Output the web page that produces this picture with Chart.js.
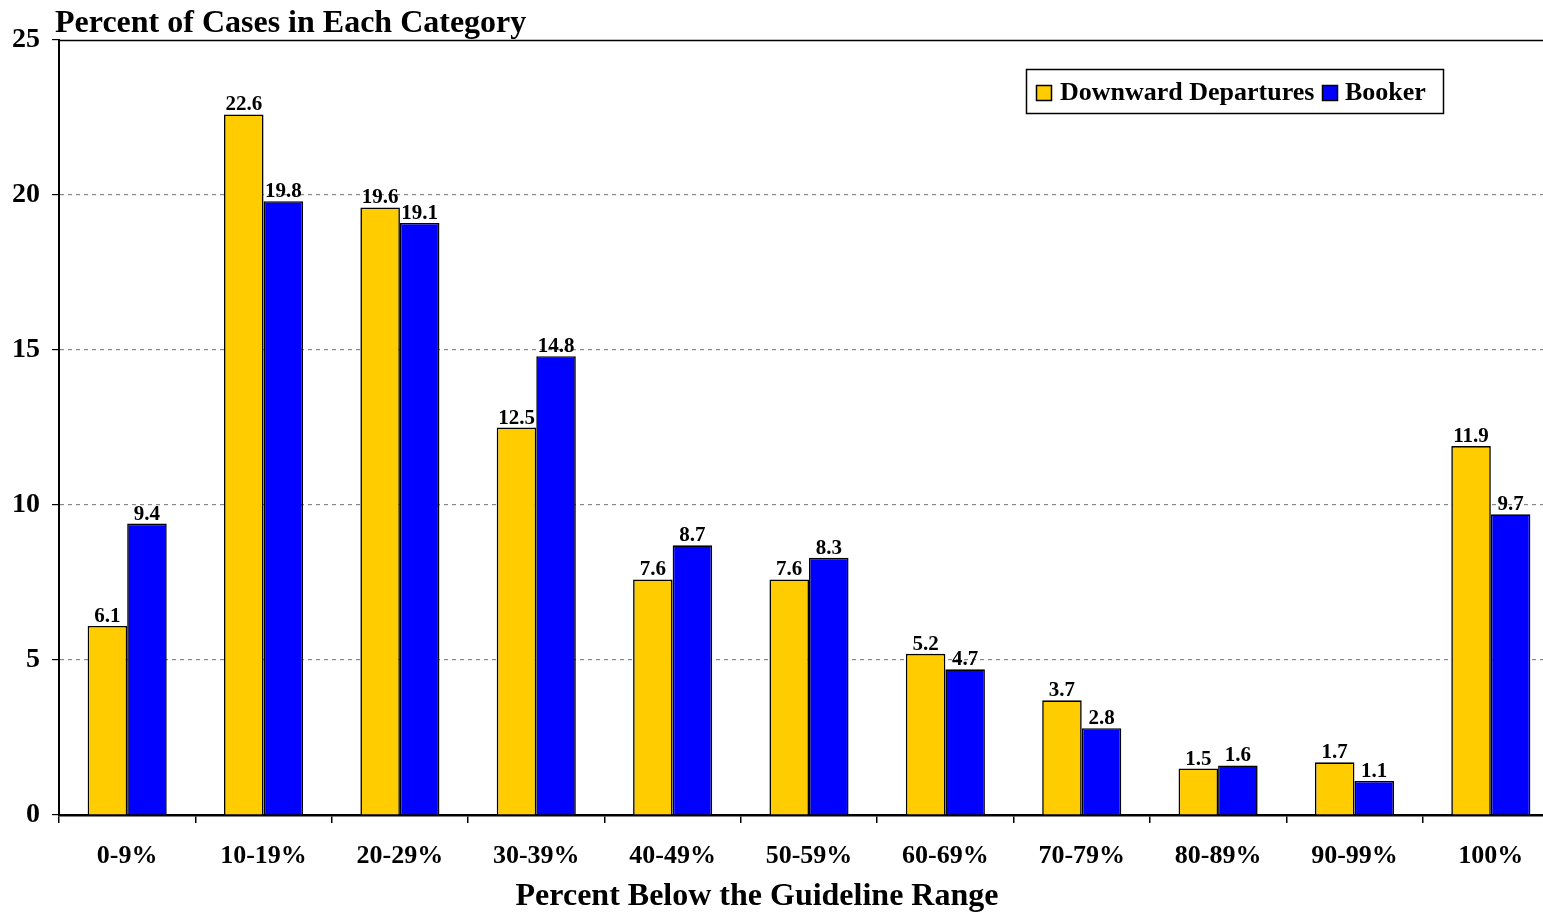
<!DOCTYPE html>
<html>
<head>
<meta charset="utf-8">
<script src="https://cdn.jsdelivr.net/npm/chart.js@4/dist/chart.umd.min.js"></script>
<style>
  html, body { margin: 0; padding: 0; background: #fff; overflow: hidden; width: 1543px; height: 912px; }
  #wrap { position: absolute; left: 0; top: 0; width: 1560px; height: 912px; }
</style>
</head>
<body>
<div id="wrap"><canvas id="c" width="1560" height="912"></canvas></div>
<script>
const categories = ['0-9%', '10-19%', '20-29%', '30-39%', '40-49%', '50-59%', '60-69%', '70-79%', '80-89%', '90-99%', '100%'];
const downwardDepartures = [6.1, 22.6, 19.6, 12.5, 7.6, 7.6, 5.2, 3.7, 1.5, 1.7, 11.9];
const booker = [9.4, 19.8, 19.1, 14.8, 8.7, 8.3, 4.7, 2.8, 1.6, 1.1, 9.7];
const seriesNames = ['Downward Departures', 'Booker'];
const yTicks = [0, 5, 10, 15, 20, 25];
const chartTitle = 'Percent of Cases in Each Category';
const xAxisTitle = 'Percent Below the Guideline Range';

const FONT = '"Liberation Serif", "Times New Roman", serif';

const extras = {
  id: 'extras',
  afterDatasetsDraw(chart) {
    const ctx = chart.ctx;
    const ca = chart.chartArea;
    ctx.save();
    // top border solid
    ctx.strokeStyle = '#000';
    ctx.lineWidth = 1.5;
    ctx.beginPath();
    ctx.moveTo(ca.left, ca.top + 0.5);
    ctx.lineTo(ca.right, ca.top + 0.5);
    ctx.stroke();

    // data labels
    ctx.fillStyle = '#000';
    ctx.font = 'bold 21px ' + FONT;
    ctx.textAlign = 'center';
    ctx.textBaseline = 'alphabetic';
    chart.data.datasets.forEach((ds, i) => {
      const meta = chart.getDatasetMeta(i);
      meta.data.forEach((bar, j) => {
        ctx.fillText(ds.data[j].toFixed(1), bar.x, bar.y - 4);
      });
    });

    // chart title (top-left)
    ctx.textAlign = 'left';
    ctx.textBaseline = 'alphabetic';
    ctx.font = 'bold 32px ' + FONT;
    ctx.fillText(chartTitle, 55, 32);

    // x axis title
    ctx.textAlign = 'center';
    ctx.font = 'bold 32px ' + FONT;
    ctx.fillText(xAxisTitle, 757, 905);

    // legend
    const lx = 1026, ly = 69, lw = 417, lh = 44;
    ctx.fillStyle = '#fff';
    ctx.fillRect(lx, ly, lw, lh);
    ctx.strokeStyle = '#000';
    ctx.lineWidth = 1.5;
    ctx.strokeRect(lx + 0.5, ly + 0.5, lw, lh);
    ctx.font = 'bold 26px ' + FONT;
    ctx.textAlign = 'left';
    ctx.textBaseline = 'middle';
    const items = [
      { sx: 1036, tx: 1060 },
      { sx: 1322, tx: 1345 }
    ];
    chart.data.datasets.forEach((ds, i) => {
      const it = items[i];
      ctx.fillStyle = ds.backgroundColor;
      ctx.fillRect(it.sx, 85, 15, 15);
      ctx.strokeStyle = '#000';
      ctx.lineWidth = 1.5;
      ctx.strokeRect(it.sx + 0.5, 85.5, 15, 15);
      ctx.fillStyle = '#000';
      ctx.fillText(ds.label, it.tx, 93);
    });
    ctx.restore();
  }
};

new Chart(document.getElementById('c'), {
  type: 'bar',
  data: {
    labels: categories,
    datasets: [
      { label: seriesNames[0], data: downwardDepartures, backgroundColor: '#FFCC00', borderColor: '#000', borderWidth: 1.6, borderSkipped: 'bottom' },
      { label: seriesNames[1], data: booker, backgroundColor: '#0000FF', borderColor: '#000', borderWidth: 1.6, borderSkipped: 'bottom' }
    ]
  },
  options: {
    responsive: false,
    animation: false,
    events: [],
    layout: { padding: { top: 40, right: 1, left: 0, bottom: 0 } },
    plugins: { legend: { display: false }, title: { display: false }, tooltip: { enabled: false } },
    datasets: { bar: { categoryPercentage: 0.58, barPercentage: 1.0 } },
    scales: {
      x: {
        grid: { offset: true, drawOnChartArea: false, color: '#000', tickColor: '#000', tickLength: 8, lineWidth: 1.5 },
        border: { display: true, color: '#000', width: 2.5 },
        ticks: { color: '#000', font: { family: FONT, size: 26, weight: 'bold' }, padding: 18, maxRotation: 0, autoSkip: false },
        afterFit(scale) { scale.height = 97; }
      },
      y: {
        min: 0, max: 25,
        afterBuildTicks(scale) { scale.ticks = yTicks.map(v => ({ value: v })); },
        grid: {
          color: (c) => (c.tick && (c.tick.value === 0 || c.tick.value === 25)) ? 'rgba(0,0,0,0)' : '#888',
          tickColor: '#000', tickLength: 7, lineWidth: 1.2
        },
        border: { display: true, color: '#000', width: 2, dash: [4, 4] },
        ticks: { color: '#000', font: { family: FONT, size: 28, weight: 'bold' }, padding: 12 },
        afterFit(scale) { scale.width = 59; }
      }
    }
  },
  plugins: [extras]
});
</script>
</body>
</html>
